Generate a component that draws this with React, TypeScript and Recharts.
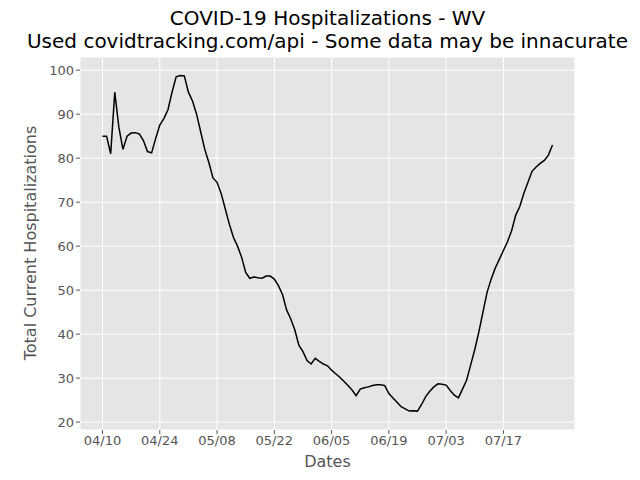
import { CartesianGrid, Line, LineChart, XAxis, YAxis } from "recharts"

// day offsets from 04/10, one value per day
const hospitalized = [
  85, 85, 81, 95, 87, 82, 85, 85.7, 85.8, 85.5, 84, 81.5, 81.2, 84.5, 87.5, 89,
  91, 95, 98.5, 98.8, 98.7, 95, 93, 90, 86, 82, 79, 75.5, 74.5, 72, 68.5, 65,
  62, 60, 57.5, 54, 52.7, 53, 52.8, 52.7, 53.2, 53.2, 52.5, 51, 49, 45.5, 43.5,
  41, 37.5, 36, 34, 33.2, 34.5, 33.8, 33.2, 32.8, 31.8, 31, 30.2, 29.3, 28.3,
  27.3, 26, 27.5, 27.8, 28, 28.3, 28.5, 28.5, 28.3, 26.5, 25.5, 24.5, 23.5, 23,
  22.5, 22.6, 22.5, 24, 25.8, 27, 28, 28.7, 28.6, 28.4, 27.2, 26.1, 25.5, 27.5,
  29.5, 33, 36.5, 40.5, 45, 49.5, 52.5, 55, 57, 59, 61, 63.5, 67, 69, 72, 74.5,
  77, 78, 78.8, 79.5, 80.7, 83,
]
const xTicks = [0, 14, 28, 42, 56, 70, 84, 98]
const xTickLabels = ["04/10", "04/24", "05/08", "05/22", "06/05", "06/19", "07/03", "07/17"]
const yTicks = [20, 30, 40, 50, 60, 70, 80, 90, 100]

const data = hospitalized.map((value, day) => ({ day, value }))
const font = "DejaVu Sans, sans-serif"
const tick = { fill: "#555", fontSize: 13, fontFamily: font }

export default function App() {
  return (
    <div style={{ position: "absolute", left: 0, top: 0, width: 640, height: 480, background: "#fff", fontFamily: font }}>
      <div style={{ position: "absolute", left: 0, top: 7, width: 655, textAlign: "center", fontSize: 20, lineHeight: "23px", color: "#000" }}>
        COVID-19 Hospitalizations - WV
        <br />
        Used covidtracking.com/api - Some data may be innacurate
      </div>
      <div style={{ position: "absolute", left: 0, top: 452, width: 655, textAlign: "center", fontSize: 16, color: "#555" }}>
        Dates
      </div>
      <div
        style={{
          position: "absolute", left: 30, top: 243, fontSize: 16, color: "#555", whiteSpace: "nowrap",
          transform: "translate(-50%, -50%) rotate(-90deg)",
        }}
      >
        Total Current Hospitalizations
      </div>
      <LineChart
        width={640}
        height={480}
        data={data}
        margin={{ top: 57, right: 65, bottom: 0, left: 40 }}
        style={{ position: "absolute", left: 0, top: 0 }}
      >
        <CartesianGrid fill="#e5e5e5" stroke="#fff" strokeWidth={1} />
        <XAxis
          dataKey="day"
          type="number"
          domain={[-5.5, 115.5]}
          ticks={xTicks}
          tickFormatter={(d: number) => xTickLabels[xTicks.indexOf(d)] ?? ""}
          tick={tick}
          axisLine={false}
          tickLine={{ stroke: "#555" }}
          tickSize={4}
          height={50}
          interval={0}
        />
        <YAxis
          type="number"
          domain={[18.2, 103]}
          ticks={yTicks}
          tick={tick}
          axisLine={false}
          tickLine={{ stroke: "#555" }}
          tickSize={4}
          width={40}
          interval={0}
        />
        <Line type="linear" dataKey="value" stroke="#000" strokeWidth={1.5} dot={false} isAnimationActive={false} />
      </LineChart>
    </div>
  )
}
